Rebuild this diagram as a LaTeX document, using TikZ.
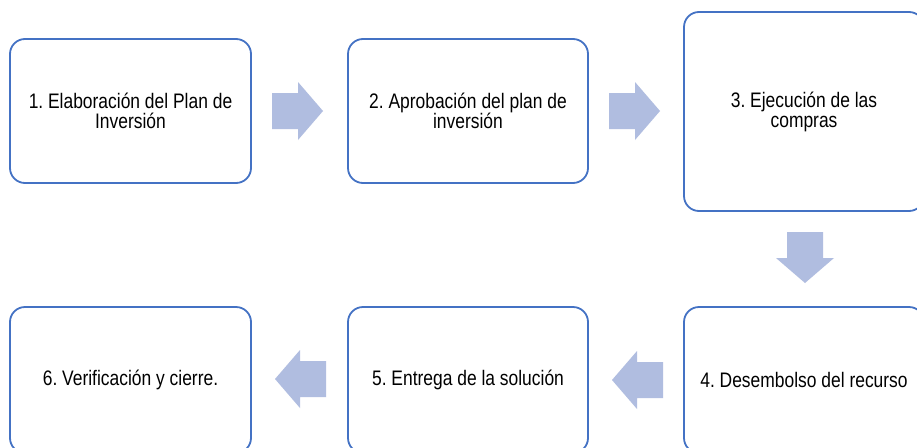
\documentclass[tikz,border=0pt]{standalone}
\usepackage{fontspec}
\setmainfont[FakeStretch=0.83]{Liberation Sans}
\definecolor{boxblue}{RGB}{68,114,196}
\definecolor{arrowfill}{RGB}{176,189,224}
\begin{document}
\frenchspacing
\begin{tikzpicture}[x=1pt,y=-1pt,
  stepbox/.style={draw=boxblue, line width=1.8pt, rounded corners=15pt, fill=white,
    align=center, font=\fontsize{21}{20}\selectfont\frenchspacing, inner sep=0pt, text=black},
  pics/blockarrow/.style={code={\fill[arrowfill] (0,-18) -- (26,-18) -- (26,-29) -- (51,0) -- (26,29) -- (26,18) -- (0,18) -- cycle;}}]
\useasboundingbox (0,0) rectangle (917,447);
\clip (0,0) rectangle (917,447);
\fill[white] (0,0) rectangle (917,447);
% top row
\node[stepbox, minimum width=241pt, minimum height=144pt] (s1) at (130.5,111) {1. Elaboración del Plan de\\Inversión};
\node[stepbox, minimum width=240pt, minimum height=144pt] (s2) at (468,111) {2. Aprobación del plan de\\inversión};
\node[stepbox, minimum width=240pt, minimum height=199pt] (s3) at (804,111.5) {3. Ejecución de las\\compras};
% bottom row
\node[stepbox, minimum width=240pt, minimum height=146pt] (s4) at (804,380) {4. Desembolso del recurso};
\node[stepbox, minimum width=240pt, minimum height=146pt] (s5) at (468,380) {5. Entrega de la solución};
\node[stepbox, minimum width=241pt, minimum height=146pt] (s6) at (130.5,380) {6. Verificación y cierre.};
% block arrows
\pic at (272,111) {blockarrow};
\pic at (609,111) {blockarrow};
\pic[rotate=-90] at (805,232) {blockarrow};
\pic[rotate=180] at (663,380) {blockarrow};
\pic[rotate=180] at (326,379) {blockarrow};
\end{tikzpicture}
\end{document}
